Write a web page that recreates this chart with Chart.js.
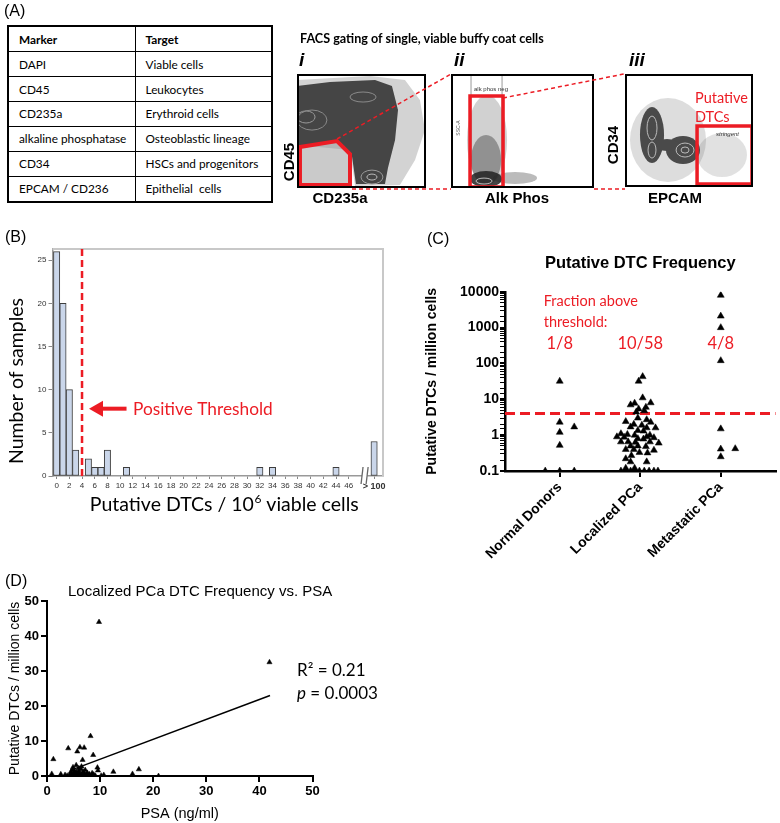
<!DOCTYPE html>
<html><head><meta charset="utf-8">
<script src="https://cdn.jsdelivr.net/npm/chart.js@4.4.1/dist/chart.umd.min.js"></script>
<style>
body{margin:0;background:#fff}
#page{position:relative;width:780px;height:823px;overflow:hidden;background:#fff;font-family:"Liberation Sans",Arial,sans-serif;color:#000}
.t{position:absolute;line-height:1;white-space:nowrap}
.c{transform:translate(-50%,-50%)}
.m{transform:translateY(-50%)}
.r{transform:translate(-50%,-50%) rotate(-90deg)}
.ax{font-weight:bold;font-size:15px}
.lab{font-size:16px}
canvas{position:absolute}
#markers{position:absolute;left:7px;top:25px;width:266px;height:178px;border-collapse:collapse;border:2px solid #000;font:11.8px Lato,sans-serif}
#markers td,#markers th{border:1.5px solid #000;padding:0 0 0 10px;text-align:left;white-space:pre}
</style></head>
<body><div id="page">
<table id="markers"><col style="width:127px"><col><tbody id="markerRows"></tbody></table>

<canvas id="facsI" width="129" height="114" style="left:297px;top:74px"></canvas>
<canvas id="facsII" width="143" height="114" style="left:451px;top:74px"></canvas>
<canvas id="facsIII" width="128" height="113" style="left:625px;top:74px"></canvas>
<canvas id="histB" width="400" height="290" style="left:0;top:240px"></canvas>
<canvas id="dtcC" width="380" height="330" style="left:400px;top:240px"></canvas>
<canvas id="psaD" width="400" height="243" style="left:0;top:580px"></canvas>

<svg width="780" height="823" style="position:absolute;left:0;top:0;pointer-events:none">
 <g stroke="#ec1c24" stroke-width="1.5" stroke-dasharray="4 3" fill="none">
  <line x1="337" y1="139" x2="451" y2="74"/>
  <line x1="352" y1="189" x2="451" y2="189"/>
  <line x1="503" y1="98" x2="624" y2="74"/>
  <line x1="594" y1="189" x2="625" y2="189"/>
 </g>
</svg>

<div class="t lab" style="left:4px;top:3px">(A)</div>
<div class="t lab" style="left:5px;top:229px">(B)</div>
<div class="t lab" style="left:427px;top:231px">(C)</div>
<div class="t lab" style="left:5px;top:573px">(D)</div>
<div class="t m" style="left:300px;top:38px;font:bold 12.6px Lato,sans-serif">FACS gating of single, viable buffy coat cells</div>
<div class="t" style="left:299px;top:50px;font-size:19px;font-weight:bold;font-style:italic">i</div>
<div class="t" style="left:454px;top:50px;font-size:19px;font-weight:bold;font-style:italic">ii</div>
<div class="t" style="left:629px;top:50px;font-size:19px;font-weight:bold;font-style:italic">iii</div>
<div class="t r ax" style="left:288px;top:162px">CD45</div>
<div class="t c ax" style="left:340px;top:197px">CD235a</div>
<div class="t c ax" style="left:517px;top:197px">Alk Phos</div>
<div class="t c ax" style="left:675px;top:197px">EPCAM</div>
<div class="t r ax" style="left:612px;top:145px">CD34</div>
<div class="t m" style="left:695px;top:97px;font:14.5px Lato,sans-serif;color:#ec1c24">Putative</div>
<div class="t m" style="left:695px;top:116px;font:14.5px Lato,sans-serif;color:#ec1c24">DTCs</div>
<div class="t m" style="left:716px;top:134px;font-size:6px;font-style:italic;color:#333">stringent</div>
<div class="t m" style="left:474px;top:89px;font-size:6px;color:#333">alk phos neg</div>
<div class="t r" style="left:458px;top:128px;font-size:5px;color:#555">SSC-A</div>
</div>
<script>
// panel A table
const markerNames = ['DAPI', 'CD45', 'CD235a', 'alkaline phosphatase', 'CD34', 'EPCAM / CD236'];
const markerTargets = ['Viable cells', 'Leukocytes', 'Erythroid cells', 'Osteoblastic lineage', 'HSCs and progenitors', 'Epithelial  cells'];

// panel B histogram
const histBins = [0, 1, 2, 3, 5, 6, 7, 8, 11, 32, 34, 44, 50];
const histCounts = [26, 20, 10, 3, 2, 1, 1, 3, 1, 1, 1, 1, 4];
const histTickValues = [0, 2, 4, 6, 8, 10, 12, 14, 16, 18, 20, 22, 24, 26, 28, 30, 32, 34, 36, 38, 40, 42, 44, 46, 50];
const histTickLabels = ['0', '2', '4', '6', '8', '10', '12', '14', '16', '18', '20', '22', '24', '26', '28', '30', '32', '34', '36', '38', '40', '42', '44', '46', '> 100'];
const histThreshold = 4;

// panel C frequency by group
const groupNames = ['Normal Donors', 'Localized PCa', 'Metastatic PCa'];
const fractionLabels = ['1/8', '10/58', '4/8'];
const dtcThreshold = 4;
const normalValues = [32, 2.3, 1.2, 0.52, 1.7, 0.1, 0.1, 0.1];
const normalJitter = [0, 0, 0, 0, 0.18, -0.18, 0, 0.18];
const localizedValues = [43, 32, 11, 8, 7.8, 7, 6, 5.4, 4.8, 4.4,
  3.0, 2.7, 2.4, 2.3, 2.0, 1.9, 1.7, 1.6, 1.6, 1.35, 1.3,
  1.1, 1.05, 1.0, 1.0, 0.9, 0.88, 0.9, 0.85, 0.8, 0.78,
  0.65, 0.65, 0.63, 0.65, 0.6, 0.5, 0.5, 0.48, 0.4, 0.4, 0.38,
  0.33, 0.32, 0.27, 0.22, 0.18, 0.18, 0.12, 0.12,
  0.1, 0.1, 0.1, 0.1, 0.1, 0.1, 0.1, 0.1];
const localizedJitter = [0.03, -0.02, 0.03, 0.13, -0.07, -0.12, 0.07, -0.02, 0.05, -0.05,
  -0.03, 0.08, -0.18, 0.13, -0.08, 0.02, -0.12, 0.08, 0.19, -0.03, 0.04,
  -0.24, -0.16, -0.07, 0.12, -0.29, -0.2, 0.08, 0.17, -0.03, 0.04,
  -0.24, -0.15, -0.06, 0.12, 0.23, -0.12, -0.03, 0.07, -0.18, -0.08, 0.17,
  -0.01, 0.09, -0.11, -0.18, -0.12, 0.08, -0.18, -0.07,
  -0.24, -0.12, -0.07, -0.01, 0.05, 0.11, 0.17, 0.22];
const metastaticValues = [8000, 2100, 1000, 120, 1.5, 0.41, 0.42, 0.25];
const metastaticJitter = [0, 0, 0, 0, 0, 0, 0.18, 0];

// panel D DTC vs PSA
const psaValues = [9.8, 41.9, 1.2, 4.0, 5.7, 6.2, 7.0, 8.2, 8.7, 6.7, 5.5, 6.5, 9.5, 9.6, 12.5, 17.3, 16.1, 21, 0.9, 2.6, 3.4, 10.7,
  4.2, 4.5, 4.6, 4.8, 5.0, 5.1, 5.2, 5.3, 5.4, 5.6, 5.8, 5.9, 6.0, 6.1, 6.3, 6.4, 6.6, 6.8, 6.9, 7.1, 7.2, 7.4, 7.6, 7.8, 8.0, 8.4, 8.8, 9.1, 4.4, 3.8, 7.0, 5.5, 6.0, 4.9, 8.5, 10.2];
const psaDtcValues = [44, 32.5, 4.8, 7.9, 7.0, 8.2, 8.1, 11.4, 6.0, 4.6, 3.1, 2.7, 2.4, 1.6, 1.2, 1.9, 0.6, 0, 0.6, 0.5, 0.3, 0.3,
  0.2, 1.2, 0.5, 1.8, 0.1, 0.9, 1.5, 0.3, 0.7, 1.1, 0.2, 0.5, 1.4, 0.8, 0.1, 1.9, 0.4, 1.2, 0.2, 0.6, 1.7, 0.3, 0.9, 0.1, 0.5, 0.2, 0.4, 0.1, 0, 0.1, 0, 0, 2.2, 2.5, 0.8, 0.1];
const psaFitX = [4.4, 42];
const psaFitY = [1.6, 23.0];

const RED = '#ec1c24';

// FACS sketches, in 0-100 axis units
const gateI = [[2.3, 36], [31, 41.2], [41.1, 29.8], [41.1, 2.6], [2.3, 2.6]];
const facsI = [
  { type: 'poly', pts: [[0, 94.7], [56.6, 98.2], [83.7, 94.7], [95.3, 77.2], [99.2, 50.9], [91.5, 24.6], [79.8, 2.6], [45, 1.8], [41.1, 33.3], [0, 37.7]], fill: 'rgba(110,110,110,0.3)' },
  { type: 'poly', pts: [[0, 89.5], [25.6, 93], [60.5, 94.7], [73.6, 89.5], [78.3, 68.4], [76, 42.1], [70.5, 17.5], [68.2, 3.5], [45.7, 3.5], [42.6, 28.1], [31.8, 40.4], [0, 35.1]], fill: '#454545' },
  { type: 'poly', pts: gateI, fill: 'rgba(150,150,150,0.5)' },
  { type: 'ell', c: [7, 62.3], r: [7, 5.3], stroke: '#9a9a9a' },
  { type: 'ell', c: [11.6, 59.6], r: [11.6, 8.8], stroke: '#8a8a8a' },
  { type: 'ell', c: [51.2, 79.8], r: [10.1, 4.4], stroke: '#8a8a8a' },
  { type: 'ell', c: [58.1, 9.6], r: [8.5, 6.1], stroke: '#9a9a9a' },
  { type: 'ell', c: [58.1, 9.6], r: [3.9, 2.6], stroke: '#bbb' },
  { type: 'poly', pts: gateI, stroke: RED, lw: 4 }
];
const facsII = [
  { type: 'vline', x: 14, stroke: '#999' },
  { type: 'vline', x: 35.7, stroke: '#999' },
  { type: 'ell', c: [25.2, 42.1], r: [14, 39.5], fill: 'rgba(70,70,70,0.25)' },
  { type: 'ell', c: [24.5, 24.6], r: [10.5, 22], fill: 'rgba(50,50,50,0.4)' },
  { type: 'ell', c: [44.8, 8.8], r: [15.4, 5.3], fill: 'rgba(60,60,60,0.35)' },
  { type: 'ell', c: [24.5, 7.9], r: [11.2, 7], fill: 'rgba(35,35,35,0.85)' },
  { type: 'ell', c: [23.1, 6.1], r: [5.6, 2.6], stroke: '#bbb' },
  { type: 'rect', x: [13.3, 36.4], y: [0.9, 80.7], stroke: RED, lw: 3.5 }
];
const facsIII = [
  { type: 'ell', c: [33.6, 41.6], r: [29.7, 37.2], fill: 'rgba(100,100,100,0.22)' },
  { type: 'ell', c: [75.8, 28.3], r: [19.5, 19.5], fill: 'rgba(120,120,120,0.22)' },
  { type: 'ell', c: [21.1, 46], r: [9.4, 24.8], fill: '#4a4a4a' },
  { type: 'ell', c: [45.3, 32.7], r: [13.3, 12.4], fill: '#4a4a4a' },
  { type: 'ell', c: [32.8, 37.2], r: [9.4, 5.3], fill: '#4a4a4a' },
  { type: 'ell', c: [21.1, 52.2], r: [3.9, 10.6], stroke: '#bbb' },
  { type: 'ell', c: [21.1, 32.7], r: [3.1, 7.1], stroke: '#bbb' },
  { type: 'ell', c: [46.9, 32.7], r: [7, 6.2], stroke: '#bbb' },
  { type: 'ell', c: [46.9, 32.7], r: [3.1, 2.7], stroke: '#bbb' },
  { type: 'rect', x: [56.3, 99.2], y: [2.7, 54], stroke: RED, lw: 3.5 }
];

// table rows
const rowsEl = document.getElementById('markerRows');
rowsEl.innerHTML = '<tr><th>Marker</th><th>Target</th></tr>' +
  markerNames.map((m, i) => `<tr><td>${m}</td><td>${markerTargets[i]}</td></tr>`).join('');

Chart.defaults.font.family = '"Liberation Sans", Arial, sans-serif';
Chart.defaults.color = '#000';
Chart.defaults.animation = false;
Chart.defaults.plugins.legend.display = false;
Chart.defaults.plugins.tooltip.enabled = false;

const isPow10 = v => Math.abs(Math.log10(v) - Math.round(Math.log10(v))) < 1e-6;

const facsPlugin = shapes => ({
  id: 'facsShapes',
  afterDraw(chart) {
    const { ctx, chartArea: a, scales: { x, y } } = chart;
    const px = v => x.getPixelForValue(v), py = v => y.getPixelForValue(v);
    ctx.save();
    ctx.beginPath(); ctx.rect(a.left, a.top, a.width, a.height); ctx.clip();
    for (const s of shapes) {
      ctx.beginPath();
      if (s.type === 'poly') {
        s.pts.forEach((p, i) => i ? ctx.lineTo(px(p[0]), py(p[1])) : ctx.moveTo(px(p[0]), py(p[1])));
        ctx.closePath();
      } else if (s.type === 'ell') {
        ctx.ellipse(px(s.c[0]), py(s.c[1]), Math.abs(px(s.r[0]) - px(0)), Math.abs(py(s.r[1]) - py(0)), 0, 0, Math.PI * 2);
      } else if (s.type === 'rect') {
        ctx.rect(px(s.x[0]), py(s.y[1]), px(s.x[1]) - px(s.x[0]), py(s.y[0]) - py(s.y[1]));
      } else if (s.type === 'vline') {
        ctx.moveTo(px(s.x), a.top); ctx.lineTo(px(s.x), a.bottom);
      }
      if (s.fill) { ctx.fillStyle = s.fill; ctx.fill(); }
      if (s.stroke) { ctx.strokeStyle = s.stroke; ctx.lineWidth = s.lw || 1; ctx.stroke(); }
    }
    ctx.restore();
    ctx.strokeStyle = '#000'; ctx.lineWidth = 2;
    ctx.strokeRect(a.left + 1, a.top + 1, a.width - 2, a.height - 2);
  }
});

const makeFacs = (id, shapes) => new Chart(document.getElementById(id), {
  type: 'scatter',
  data: { datasets: [] },
  options: {
    responsive: false,
    layout: { padding: 0 },
    scales: {
      x: { type: 'linear', display: false, min: 0, max: 100 },
      y: { type: 'linear', display: false, min: 0, max: 100 }
    }
  },
  plugins: [facsPlugin(shapes)]
});
makeFacs('facsI', facsI);
makeFacs('facsII', facsII);
makeFacs('facsIII', facsIII);

// B: histogram
const histDecor = {
  id: 'histDecor',
  afterDraw(chart) {
    const { ctx, chartArea: a, scales: { x, y } } = chart;
    ctx.save();
    ctx.strokeStyle = '#c8c8c8'; ctx.lineWidth = 2;
    ctx.beginPath(); ctx.moveTo(a.left, a.top); ctx.lineTo(a.right, a.top); ctx.lineTo(a.right, a.bottom); ctx.stroke();

    const tx = x.getPixelForValue(histThreshold);
    ctx.strokeStyle = RED; ctx.lineWidth = 2.5; ctx.setLineDash([7, 4]);
    ctx.beginPath(); ctx.moveTo(tx, a.top); ctx.lineTo(tx, a.bottom); ctx.stroke();
    ctx.setLineDash([]);

    const ay = y.getPixelForValue(7.8);
    ctx.fillStyle = RED;
    ctx.beginPath(); ctx.moveTo(tx + 7, ay); ctx.lineTo(tx + 21, ay - 8); ctx.lineTo(tx + 21, ay + 8); ctx.closePath(); ctx.fill();
    ctx.lineWidth = 4;
    ctx.beginPath(); ctx.moveTo(tx + 18, ay); ctx.lineTo(tx + 44.5, ay); ctx.stroke();
    ctx.font = '17.3px Lato'; ctx.textBaseline = 'alphabetic';
    ctx.fillText('Positive Threshold', tx + 51, ay + 6);

    // axis break
    const b1 = x.getPixelForValue(48.1), b2 = x.getPixelForValue(48.9);
    ctx.fillStyle = '#fff'; ctx.fillRect(b1, a.bottom - 3, b2 - b1, 6);
    ctx.strokeStyle = '#666'; ctx.lineWidth = 1.3;
    [b1, b2].forEach(b => { ctx.beginPath(); ctx.moveTo(b - 1, a.bottom + 8); ctx.lineTo(b + 1, a.bottom - 9); ctx.stroke(); });

    // axis titles
    ctx.fillStyle = '#000';
    ctx.font = '19.5px Lato';
    const s1 = 'Putative DTCs / 10', s3 = ' viable cells';
    const w1 = ctx.measureText(s1).width, w3 = ctx.measureText(s3).width;
    ctx.font = '12px Lato';
    const w2 = ctx.measureText('6').width;
    const start = 224 - (w1 + w2 + w3) / 2, by = 270.7;
    ctx.font = '19.5px Lato'; ctx.fillText(s1, start, by);
    ctx.font = '12px Lato'; ctx.fillText('6', start + w1 + 0.5, by - 8);
    ctx.font = '19.5px Lato'; ctx.fillText(s3, start + w1 + w2 + 0.5, by);

    ctx.translate(16.5, 141); ctx.rotate(-Math.PI / 2);
    ctx.font = '19.5px Lato'; ctx.textAlign = 'center'; ctx.textBaseline = 'middle';
    ctx.fillText('Number of samples', 0, 0);
    ctx.restore();
  }
};

new Chart(document.getElementById('histB'), {
  type: 'bar',
  data: {
    datasets: [{
      data: histBins.map((b, i) => ({ x: b, y: histCounts[i] })),
      backgroundColor: '#cad6ea', borderColor: '#3d3d3d', borderWidth: 1, borderSkipped: false,
      barPercentage: 1, categoryPercentage: 1
    }]
  },
  options: {
    responsive: false,
    layout: { padding: { top: 9, right: 17, left: 0, bottom: 0 } },
    scales: {
      x: {
        type: 'linear', min: -0.65, max: 51.4, offset: false,
        afterBuildTicks: s => { s.ticks = histTickValues.map(v => ({ value: v })); },
        afterFit: s => { s.height = 54; },
        ticks: {
          autoSkip: false, maxRotation: 0, minRotation: 0, padding: 2, color: '#333',
          font: c => ({ size: c.tick && c.tick.value === 50 ? 9 : 8, weight: c.tick && c.tick.value === 50 ? 'bold' : 'normal' }),
          callback: v => histTickLabels[histTickValues.indexOf(v)]
        },
        grid: { offset: false, drawOnChartArea: false, tickLength: 3, color: '#888' },
        border: { color: '#999', width: 1.5 }
      },
      y: {
        min: 0, max: 26.3,
        afterFit: s => { s.width = 52.5; },
        ticks: { stepSize: 5, includeBounds: false, padding: 2, color: '#333', font: { size: 8 } },
        grid: { drawOnChartArea: false, tickLength: 4, color: '#888' },
        border: { color: '#999', width: 1.5 }
      }
    }
  },
  plugins: [histDecor]
});

// C: DTC frequency by group
const dtcDecor = {
  id: 'dtcDecor',
  beforeDatasetsDraw(chart) {
    const { ctx, chartArea: a, scales: { x, y } } = chart;
    const ty = y.getPixelForValue(dtcThreshold);
    ctx.save();
    ctx.strokeStyle = RED; ctx.lineWidth = 3; ctx.setLineDash([10, 5]);
    ctx.beginPath(); ctx.moveTo(a.left, ty); ctx.lineTo(a.right, ty); ctx.stroke();
    ctx.setLineDash([]);
    ctx.fillStyle = RED; ctx.font = '14.5px Lato'; ctx.textBaseline = 'middle'; ctx.textAlign = 'left';
    const x0 = x.getPixelForValue(0) - 16;
    ctx.fillText('Fraction above', x0, a.top + 10);
    ctx.fillText('threshold:', x0, a.top + 31);
    ctx.font = '16.5px Lato'; ctx.textAlign = 'center';
    fractionLabels.forEach((f, i) => ctx.fillText(f, x.getPixelForValue(i), a.top + 52));
    ctx.restore();
  }
};

const groupPoints = (vals, jit, g) => vals.map((v, i) => ({ x: g + jit[i], y: v }));
const triStyle = { pointStyle: 'triangle', pointRadius: 4, backgroundColor: '#000', borderColor: '#000', borderWidth: 0.5 };

new Chart(document.getElementById('dtcC'), {
  type: 'scatter',
  data: {
    datasets: [
      { data: groupPoints(normalValues, normalJitter, 0), ...triStyle },
      { data: groupPoints(localizedValues, localizedJitter, 1), ...triStyle },
      { data: groupPoints(metastaticValues, metastaticJitter, 2), ...triStyle }
    ]
  },
  options: {
    responsive: false,
    layout: { padding: { left: 0, right: 4, top: 0, bottom: 0 } },
    plugins: {
      title: {
        display: true, text: 'Putative DTC Frequency', fullSize: false, color: '#000',
        font: { size: 16.5, weight: 'bold' }, padding: { top: 14, bottom: 18 }
      }
    },
    scales: {
      x: {
        type: 'linear', min: -0.68, max: 2.68,
        afterBuildTicks: s => { s.ticks = groupNames.map((n, i) => ({ value: i })); },
        afterFit: s => { s.height = 99; },
        ticks: {
          autoSkip: false, minRotation: 45, maxRotation: 45, padding: 2, color: '#000',
          font: { size: 14, weight: 'bold' }, callback: v => groupNames[v]
        },
        grid: { drawOnChartArea: false, tickLength: 6, color: '#000', lineWidth: 2 },
        border: { color: '#000', width: 2.5 }
      },
      y: {
        type: 'logarithmic', min: 0.1, max: 10000,
        afterFit: s => { s.width = 105; },
        ticks: { autoSkip: false, padding: 1, color: '#000', font: { size: 14, weight: 'bold' }, callback: v => isPow10(v) ? String(v) : '' },
        grid: { drawOnChartArea: false, tickLength: 5, color: '#000', lineWidth: c => c.tick && isPow10(c.tick.value) ? 2 : 1 },
        border: { color: '#000', width: 2.5 },
        title: { display: true, text: 'Putative DTCs / million cells', color: '#000', font: { size: 14, weight: 'bold' }, padding: { top: 24, bottom: 0 } }
      }
    }
  },
  plugins: [dtcDecor]
});

// D: DTC vs PSA
const psaDecor = {
  id: 'psaDecor',
  afterDraw(chart) {
    const { ctx } = chart;
    ctx.save();
    ctx.fillStyle = '#000'; ctx.textBaseline = 'alphabetic';
    ctx.font = '15px "Liberation Sans"';
    ctx.fillText('Localized PCa DTC Frequency vs. PSA', 68, 16);
    ctx.font = '17px Lato';
    ctx.fillText('R\u00b2 = 0.21', 297, 96);
    ctx.font = 'italic 17px Lato';
    ctx.fillText('p', 297, 119);
    const w = ctx.measureText('p').width;
    ctx.font = '17px Lato';
    ctx.fillText(' = 0.0003', 297 + w, 119);
    ctx.restore();
  }
};

new Chart(document.getElementById('psaD'), {
  type: 'scatter',
  data: {
    datasets: [
      { data: psaValues.map((v, i) => ({ x: v, y: psaDtcValues[i] })), pointStyle: 'triangle', pointRadius: 3, backgroundColor: '#000', borderColor: '#000', borderWidth: 0.5 },
      { type: 'line', data: psaFitX.map((v, i) => ({ x: v, y: psaFitY[i] })), borderColor: '#000', borderWidth: 1.5, pointRadius: 0, showLine: true }
    ]
  },
  options: {
    responsive: false,
    layout: { padding: { top: 21, right: 87.5, left: 0, bottom: 0 } },
    scales: {
      x: {
        type: 'linear', min: 0, max: 50,
        afterFit: s => { s.height = 47; },
        ticks: { stepSize: 10, padding: 2, color: '#000', font: { size: 13, weight: 'bold' } },
        grid: { drawOnChartArea: false, tickLength: 6, color: '#000', lineWidth: 2 },
        border: { color: '#000', width: 2 },
        title: { display: true, text: 'PSA (ng/ml)', color: '#000', font: { size: 14.5 }, padding: { top: 0, bottom: 0 } }
      },
      y: {
        min: 0, max: 50,
        afterFit: s => { s.width = 47; },
        ticks: { stepSize: 10, padding: 2, color: '#000', font: { size: 13, weight: 'bold' } },
        grid: { drawOnChartArea: false, tickLength: 6, color: '#000', lineWidth: 2 },
        border: { color: '#000', width: 2 },
        title: { display: true, text: 'Putative DTCs / million cells', color: '#000', font: { size: 14 }, padding: { top: 6.4, bottom: 0 } }
      }
    }
  },
  plugins: [psaDecor]
});
</script>
</body></html>
